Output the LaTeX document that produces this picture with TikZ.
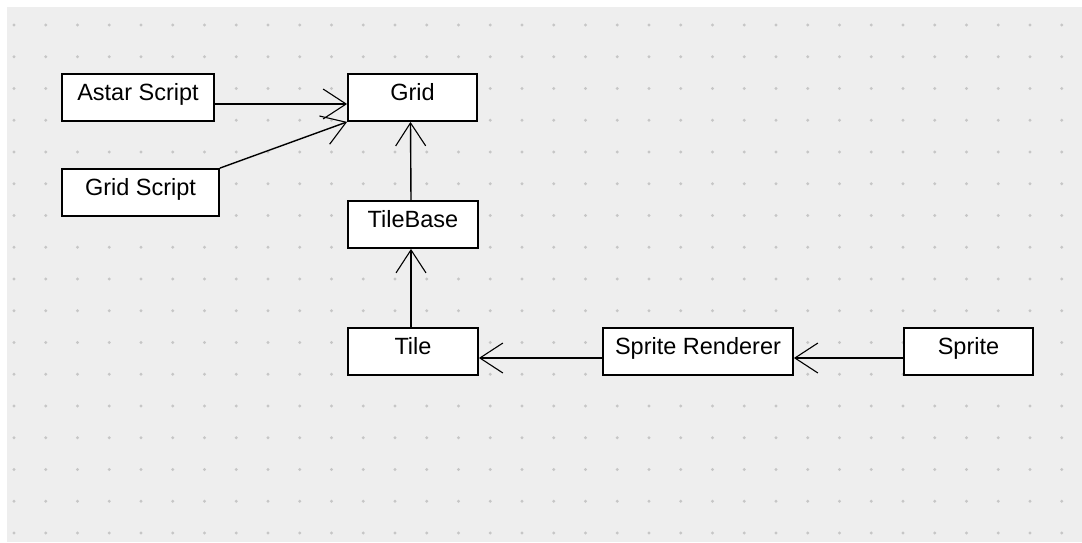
\documentclass[tikz,border=0pt]{standalone}
\usepackage{fontspec}
\setmainfont{Liberation Sans}
\usepackage{xcolor}
\usepackage{tikz}
\usetikzlibrary{arrows.meta}

\definecolor{canvasgray}{HTML}{EEEEEE}
\definecolor{dotgray}{HTML}{C6C6C6}

\begin{document}
\begin{tikzpicture}[
    x=1pt, y=-1pt,
    every node/.style={draw, line width=1.8pt, fill=white, inner xsep=0pt, inner ysep=0pt,
        text height=26pt, text depth=21pt, font=\fontsize{23.5}{28}\selectfont},
    cls/.style={minimum width=#1},
    uses/.style={draw, line width=1.4pt, -{Straight Barb[length=23pt, width=30pt, line width=1.1pt]}}
]

% canvas with dot grid
\fill[white] (0,0) rectangle (1082,542);
\fill[canvasgray] (7,7) rectangle (1082,542);
\foreach \i in {0,...,33}
    \foreach \j in {0,...,16}
        \fill[dotgray] (14+31.75*\i, 25+31.75*\j) circle (1.6pt);
\useasboundingbox (0,0) rectangle (1082,542);

\node[cls=152pt] (astar) at (138,97.5) {Astar Script};
\node[cls=157pt] (gridscript) at (140.5,192.5) {Grid Script};
\node[cls=129pt] (grid) at (412.5,97.5) {Grid};
\node[cls=130pt] (tilebase) at (413,224.5) {TileBase};
\node[cls=130pt] (tile) at (413,351.5) {Tile};
\node[cls=190pt] (renderer) at (698,351.5) {Sprite Renderer};
\node[cls=129pt] (sprite) at (968.5,351.5) {Sprite};

\draw[uses] ([yshift=-6.5pt]astar.east) -- ([yshift=-6.5pt]grid.west);
\draw[uses] (gridscript.north east) -- (grid.south west);
\draw[uses] ([xshift=-2pt]tilebase.north) -- ([xshift=-2pt]grid.south);
\draw[uses] ([xshift=-2pt]tile.north) -- ([xshift=-2pt]tilebase.south);
\draw[uses] ([yshift=-6.5pt]renderer.west) -- ([yshift=-6.5pt]tile.east);
\draw[uses] ([yshift=-6.5pt]sprite.west) -- ([yshift=-6.5pt]renderer.east);

\end{tikzpicture}
\end{document}
